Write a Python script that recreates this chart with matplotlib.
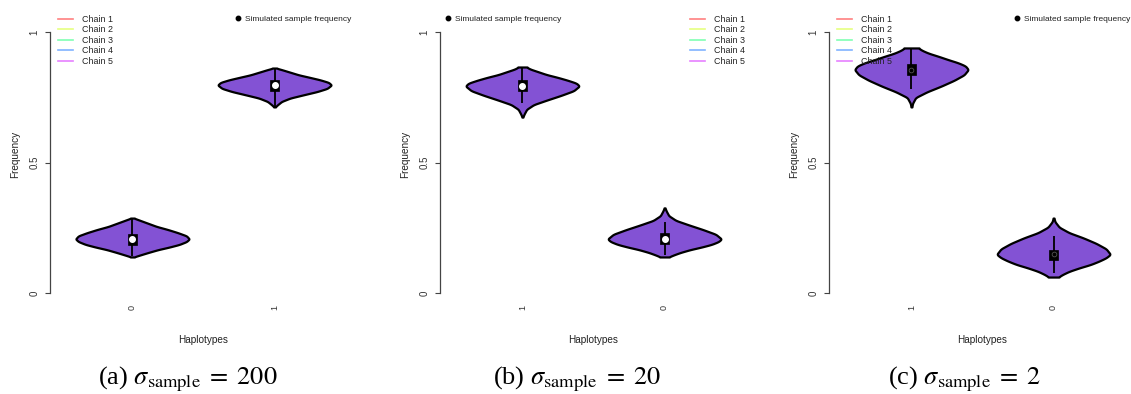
import numpy as np
import matplotlib.pyplot as plt
from matplotlib.lines import Line2D
from matplotlib.patches import Rectangle

plt.rcParams['font.family'] = ['Liberation Sans', 'DejaVu Sans']
plt.rcParams['mathtext.fontset'] = 'stix'

# haplotype order on each panel
haplo_a = ['0', '1']
haplo_b = ['1', '0']
haplo_c = ['1', '0']
captions = [r'(a) $\sigma_{\mathrm{sample}}\;=\;200$',
            r'(b) $\sigma_{\mathrm{sample}}\;=\;20$',
            r'(c) $\sigma_{\mathrm{sample}}\;=\;2$']

chains = ['Chain 1', 'Chain 2', 'Chain 3', 'Chain 4', 'Chain 5']
chain_cols = ['#FF8080', '#E6FF80', '#80FFB3', '#80B3FF', '#E680FF']

# violin outlines: frequency level / half width
a0_y = [0.138, 0.145, 0.155, 0.166, 0.176, 0.186, 0.197, 0.207, 0.219, 0.231, 0.243, 0.255, 0.267, 0.279, 0.287]
a0_w = [0.01, 0.05, 0.11, 0.18, 0.26, 0.33, 0.38, 0.40, 0.38, 0.32, 0.25, 0.17, 0.11, 0.05, 0.01]
a1_y = [0.713, 0.721, 0.734, 0.747, 0.759, 0.772, 0.784, 0.797, 0.807, 0.817, 0.826, 0.836, 0.846, 0.856, 0.862]
a1_w = [0.005, 0.02, 0.05, 0.11, 0.20, 0.30, 0.37, 0.40, 0.38, 0.32, 0.25, 0.17, 0.11, 0.05, 0.01]
b1_y = [0.674, 0.686, 0.704, 0.722, 0.739, 0.757, 0.775, 0.793, 0.804, 0.815, 0.826, 0.837, 0.848, 0.859, 0.866]
b1_w = [0.003, 0.012, 0.03, 0.08, 0.17, 0.27, 0.36, 0.40, 0.38, 0.32, 0.25, 0.17, 0.11, 0.05, 0.03]
b0_y = [0.138, 0.145, 0.155, 0.166, 0.176, 0.186, 0.197, 0.207, 0.225, 0.243, 0.261, 0.278, 0.296, 0.314, 0.326]
b0_w = [0.03, 0.06, 0.11, 0.18, 0.26, 0.33, 0.38, 0.40, 0.36, 0.27, 0.17, 0.08, 0.03, 0.012, 0.003]
c1_y = [0.713, 0.727, 0.749, 0.771, 0.793, 0.815, 0.836, 0.856, 0.870, 0.882, 0.894, 0.907, 0.919, 0.931, 0.939]
c1_w = [0.003, 0.008, 0.03, 0.11, 0.21, 0.30, 0.37, 0.40, 0.38, 0.33, 0.26, 0.19, 0.12, 0.07, 0.05]
c0_y = [0.061, 0.070, 0.083, 0.096, 0.109, 0.122, 0.135, 0.148, 0.169, 0.190, 0.211, 0.231, 0.252, 0.273, 0.287]
c0_w = [0.035, 0.06, 0.11, 0.18, 0.26, 0.32, 0.37, 0.40, 0.37, 0.30, 0.21, 0.11, 0.04, 0.01, 0.003]

# box: q1, median, q3, whisker low, whisker high
a0_box = [0.184, 0.205, 0.226, 0.140, 0.285]
a1_box = [0.774, 0.797, 0.816, 0.715, 0.860]
b1_box = [0.774, 0.793, 0.816, 0.728, 0.862]
b0_box = [0.188, 0.207, 0.230, 0.146, 0.272]
c1_box = [0.835, 0.856, 0.877, 0.782, 0.936]
c0_box = [0.125, 0.148, 0.165, 0.077, 0.218]

fill = '#8352D4'


def violin(ax, x, ys, ws, box, hollow=False):
    yy = np.linspace(ys[0], ys[-1], 300)
    ww = np.interp(yy, ys, ws)
    ww = np.convolve(np.pad(ww, 6, mode='edge'), np.ones(13) / 13, mode='valid')
    ax.fill_betweenx(yy, x - ww, x + ww, fc=fill, ec='black', lw=1.6, zorder=2)
    q1, med, q3, lo, hi = box
    ax.vlines(x, lo, hi, color='black', lw=1.3, zorder=3)
    ax.add_patch(Rectangle((x - 0.03, q1), 0.06, q3 - q1, fc='black', ec='black', lw=0.5, zorder=4))
    if hollow:
        ax.plot(x, med, 'o', ms=3.4, mfc='none', mec='#555555', mew=0.6, zorder=5)
    else:
        ax.plot(x, med, 'o', ms=4, mfc='white', mec='white', zorder=5)


fig = plt.figure(figsize=(11.31, 3.94), dpi=100)
lefts = [50, 440, 829]
panels = [(haplo_a, [(a0_y, a0_w, a0_box), (a1_y, a1_w, a1_box)]),
          (haplo_b, [(b1_y, b1_w, b1_box), (b0_y, b0_w, b0_box)]),
          (haplo_c, [(c1_y, c1_w, c1_box), (c0_y, c0_w, c0_box)])]
chain_x = [0.026, 0.814, 0.026]
sim_x = [0.605, 0.018, 0.605]
cap_x = [188, 577, 965]

for i, (labels, vios) in enumerate(panels):
    ax = fig.add_axes([lefts[i] / 1131, (394 - 303.4) / 394, 307 / 1131, 281.8 / 394])
    for j, (ys, ws, box) in enumerate(vios):
        violin(ax, j + 1, ys, ws, box, hollow=(i == 2))
    ax.set_xlim(0.42, 2.58)
    ax.set_ylim(-0.04, 1.04)
    for s in ['top', 'right', 'bottom']:
        ax.spines[s].set_visible(False)
    ax.spines['left'].set_bounds(0, 1)
    ax.spines['left'].set_color('#444444')
    ax.spines['left'].set_linewidth(0.9)
    ax.set_yticks([0, 0.5, 1])
    ax.set_yticklabels(['0', '0.5', '1'], rotation=90, va='center')
    ax.tick_params(axis='y', length=3.6, width=0.8, color='#444444', labelsize=7, pad=4, labelcolor='#333333')
    ax.set_xticks([1, 2])
    ax.set_xticklabels(labels, rotation=90)
    ax.tick_params(axis='x', length=0, labelsize=6.5, pad=1.5, labelcolor='#333333')
    ax.set_ylabel('Frequency', fontsize=7.2, color='#222222')
    ax.yaxis.set_label_coords(-0.098, 0.527)
    ax.set_xlabel('Haplotypes', fontsize=7.2, color='#222222')
    ax.xaxis.set_label_coords(0.5, -0.112)

    handles = [Line2D([], [], color=c, lw=1.2) for c in chain_cols]
    leg = ax.legend(handles, chains, loc='upper left', bbox_to_anchor=(chain_x[i], 1.024),
                    frameon=False, fontsize=6.4, handlelength=1.7, handletextpad=1.0,
                    labelspacing=0.17, borderpad=0, borderaxespad=0, labelcolor='#222222')
    ax.add_artist(leg)
    dot = Line2D([], [], marker='o', color='black', ls='', ms=3.2)
    ax.legend([dot], ['Simulated sample frequency'], loc='upper left', bbox_to_anchor=(sim_x[i], 1.024),
              frameon=False, fontsize=6, handlelength=0.6, handletextpad=0.5,
              borderpad=0, borderaxespad=0, labelcolor='#222222')

    fig.text(cap_x[i] / 1131, 1 - 384 / 394, captions[i], ha='center', va='baseline',
             fontsize=19, family='Liberation Serif')

fig.savefig('out.png', dpi=100)
